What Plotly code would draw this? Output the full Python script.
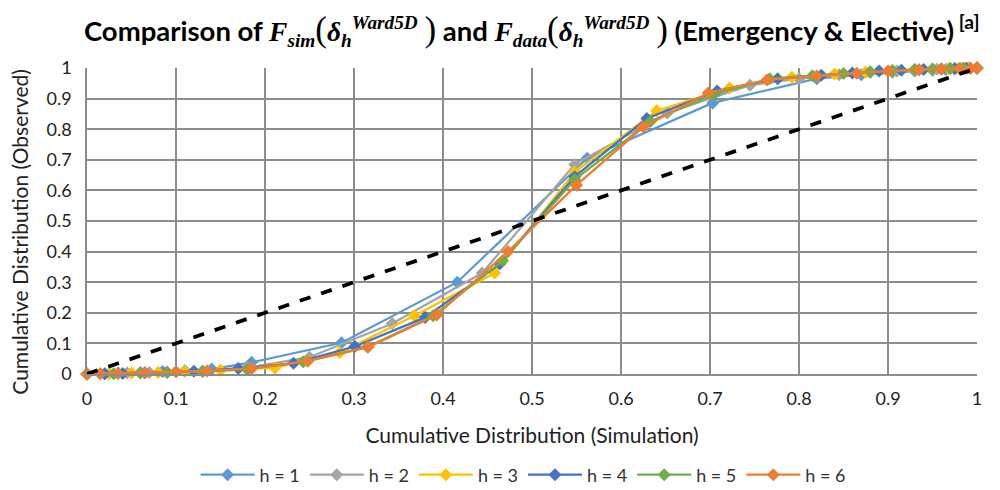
import plotly.graph_objects as go

series_names = ["h = 1", "h = 2", "h = 3", "h = 4", "h = 5", "h = 6"]
series_colors = ["#5B9BD5", "#A5A5A5", "#FFC000", "#4472C4", "#70AD47", "#ED7D31"]

h1_x = [0, 0.015, 0.035, 0.06, 0.085, 0.11, 0.14, 0.185, 0.286, 0.416, 0.562, 0.703, 0.82, 0.87, 0.905, 0.93, 0.95, 0.965, 0.975, 0.985, 0.992, 1.0]
h1_y = [0, 0.001, 0.003, 0.005, 0.008, 0.011, 0.016, 0.038, 0.102, 0.30, 0.705, 0.886, 0.965, 0.978, 0.986, 0.99, 0.993, 0.995, 0.997, 0.998, 0.999, 1.0]

h2_x = [0, 0.02, 0.045, 0.07, 0.1, 0.13, 0.18, 0.25, 0.343, 0.444, 0.548, 0.652, 0.745, 0.8, 0.845, 0.88, 0.91, 0.935, 0.955, 0.97, 0.982, 0.992, 1.0]
h2_y = [0, 0.001, 0.003, 0.005, 0.007, 0.01, 0.02, 0.055, 0.165, 0.33, 0.685, 0.853, 0.944, 0.965, 0.978, 0.985, 0.99, 0.994, 0.996, 0.998, 0.999, 1.0, 1.0]

h3_x = [0, 0.025, 0.05, 0.08, 0.11, 0.15, 0.211, 0.284, 0.368, 0.458, 0.548, 0.64, 0.722, 0.792, 0.84, 0.875, 0.905, 0.93, 0.95, 0.968, 0.98, 0.99, 1.0]
h3_y = [0, 0.001, 0.003, 0.005, 0.008, 0.012, 0.02, 0.07, 0.19, 0.33, 0.66, 0.86, 0.935, 0.97, 0.98, 0.986, 0.991, 0.994, 0.996, 0.998, 0.999, 1.0, 1.0]

h4_x = [0, 0.02, 0.04, 0.065, 0.09, 0.12, 0.17, 0.232, 0.301, 0.38, 0.464, 0.548, 0.629, 0.708, 0.776, 0.825, 0.86, 0.89, 0.915, 0.94, 0.96, 0.975, 0.988, 1.0]
h4_y = [0, 0.001, 0.002, 0.004, 0.006, 0.009, 0.018, 0.035, 0.09, 0.185, 0.36, 0.645, 0.835, 0.925, 0.965, 0.976, 0.984, 0.99, 0.993, 0.995, 0.997, 0.998, 0.999, 1.0]

h5_x = [0, 0.03, 0.06, 0.09, 0.13, 0.18, 0.243, 0.315, 0.389, 0.467, 0.548, 0.633, 0.703, 0.767, 0.815, 0.85, 0.88, 0.905, 0.93, 0.95, 0.97, 0.985, 1.0]
h5_y = [0, 0.001, 0.003, 0.005, 0.008, 0.015, 0.04, 0.088, 0.19, 0.37, 0.635, 0.825, 0.912, 0.965, 0.975, 0.982, 0.988, 0.992, 0.995, 0.997, 0.998, 0.999, 1.0]

h6_x = [0, 0.015, 0.035, 0.065, 0.1, 0.135, 0.185, 0.248, 0.316, 0.393, 0.473, 0.55, 0.625, 0.698, 0.764, 0.82, 0.865, 0.9, 0.935, 0.96, 0.98, 0.993, 1.0]
h6_y = [0, 0.001, 0.002, 0.004, 0.007, 0.01, 0.018, 0.042, 0.088, 0.193, 0.40, 0.617, 0.807, 0.918, 0.961, 0.974, 0.983, 0.99, 0.994, 0.997, 0.998, 0.999, 1.0]

ref_x = [0, 1]
ref_y = [0, 1]

xs = [h1_x, h2_x, h3_x, h4_x, h5_x, h6_x]
ys = [h1_y, h2_y, h3_y, h4_y, h5_y, h6_y]

FONT = "Lato, 'Open Sans', sans-serif"
MATH = "font-family:'Liberation Serif',serif"
PAREN = "font-family:'Liberation Serif',serif;font-weight:normal;font-size:35px"


def m(t):
    return f"<span style=\"{MATH}\"><i>{t}</i></span>"


def p(t):
    return f"<span style=\"{PAREN}\">{t}</span>"


title = ("<b>Comparison of " + m("F") + "<sub>" + m("sim") + "</sub>" + p("(") + m("δ") + "<sub>" + m("h") + "</sub>"
         "<sup>" + m("Ward5D") + "</sup> " + p(")") + " and " + m("F") + "<sub>" + m("data") + "</sub>" + p("(") + m("δ")
         + "<sub>" + m("h") + "</sub><sup>" + m("Ward5D") + "</sup> " + p(")")
         + " (Emergency &amp; Elective)<sup> [a]</sup></b>")

fig = go.Figure()
for name, col, x, y in zip(series_names, series_colors, xs, ys):
    fig.add_trace(go.Scatter(
        x=x, y=y, mode="lines+markers", name=name,
        line=dict(color=col, width=2.25),
        marker=dict(symbol="diamond", size=10, color=col),
        cliponaxis=False,
    ))

fig.add_trace(go.Scatter(
    x=ref_x, y=ref_y, mode="lines", showlegend=False,
    line=dict(color="black", width=3.75, dash="dash"),
    cliponaxis=False,
))

# page body has an 8px default margin, so the figure is 992x482 and margins are shifted by 8
fig.update_layout(
    width=992, height=482,
    paper_bgcolor="white", plot_bgcolor="white",
    margin=dict(l=79, r=23, t=60, b=116, autoexpand=False),
    font=dict(family=FONT, size=18, color="#222"),
    title=dict(text=title, x=0.528, xanchor="center", y=0.952, yanchor="middle",
               font=dict(family=FONT, size=27.5, color="black")),
    legend=dict(orientation="h", x=0.49, xanchor="center", y=-0.33, yanchor="middle",
                font=dict(size=18, color="#333"), itemwidth=54),
    showlegend=True,
    annotations=[dict(text="Cumulative Distribution (Observed)", textangle=-90,
                      xref="paper", yref="paper", x=-0.0753, y=0.465,
                      xanchor="center", yanchor="middle", showarrow=False,
                      font=dict(family=FONT, size=21, color="#222"))],
)
fig.update_xaxes(range=[0, 1], dtick=0.1, tick0=0, showgrid=True, gridcolor="#8c8c8c", gridwidth=1.5,
                 zeroline=False, showline=True, linecolor="#8c8c8c", linewidth=1.5, mirror=False,
                 ticks="", ticklabelstandoff=8, automargin=False,
                 title=dict(text="Cumulative Distribution (Simulation)", font=dict(size=21), standoff=20))
fig.update_yaxes(range=[0, 1], dtick=0.1, tick0=0, showgrid=True, gridcolor="#8c8c8c", gridwidth=1.5,
                 zeroline=False, showline=True, linecolor="#8c8c8c", linewidth=1.5,
                 ticks="", ticklabelstandoff=10, automargin=False)

fig.write_html("out.html")
